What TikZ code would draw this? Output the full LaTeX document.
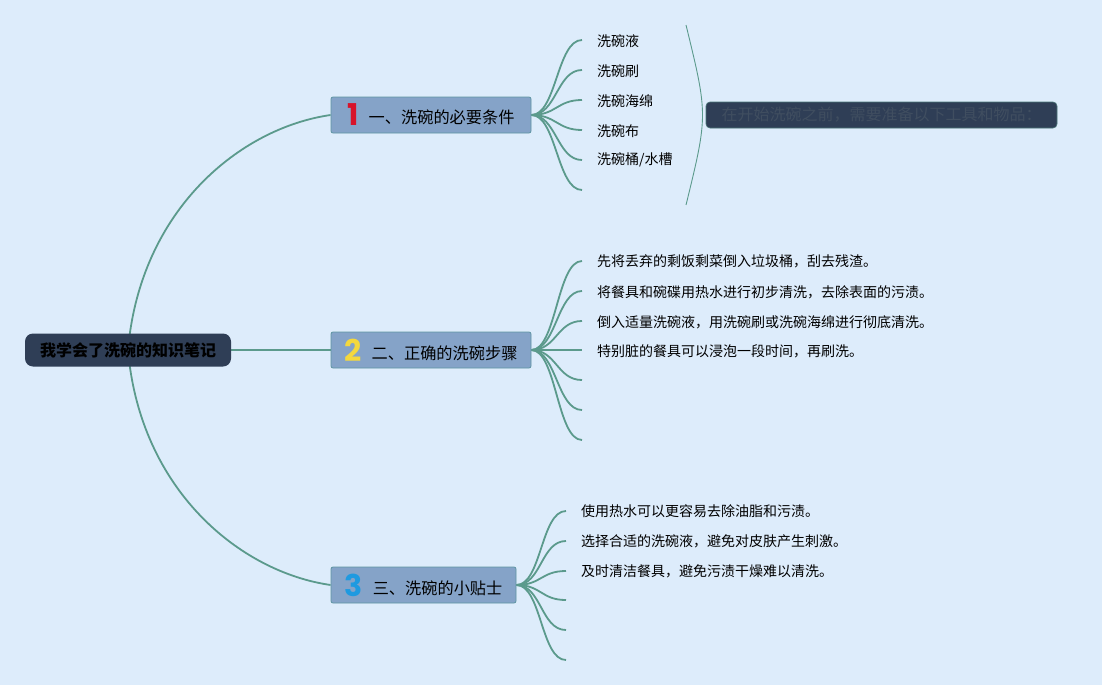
\documentclass[tikz,border=0pt]{standalone}
\usepackage{fontspec}
\setmainfont{Noto Sans CJK SC}
\newfontfamily\numfont{Poppins}
\usetikzlibrary{backgrounds}
\definecolor{bgc}{HTML}{DDECFB}
\definecolor{linkc}{HTML}{5B9A8C}
\definecolor{boxfill}{HTML}{85A3C8}
\definecolor{boxborder}{HTML}{5E95A2}
\definecolor{rootc}{HTML}{2F3E56}
\definecolor{sumtext}{HTML}{404E60}
\definecolor{numred}{HTML}{D7132A}
\definecolor{numyellow}{HTML}{F4D83E}
\definecolor{numblue}{HTML}{1F9AE0}
\begin{document}
\begin{tikzpicture}[x=1pt,y=-1pt,
  link/.style={draw=linkc, line width=1.8pt},
  rootbox/.style={fill=rootc, rounded corners=8pt, minimum width=206pt, minimum height=33pt, inner sep=0pt, font=\fontsize{16}{16}\selectfont\bfseries, text=black},
  branch/.style={draw=boxborder, fill=boxfill, rounded corners=2pt, minimum height=36pt, inner sep=0pt, line width=0.8pt, font=\fontsize{16.2}{16}\selectfont, text=black},
  leaf/.style={anchor=west, inner sep=0pt, font=\fontsize{14}{14}\selectfont, text=black},
  sumbox/.style={fill=rootc, draw=linkc!60!rootc, line width=0.6pt, rounded corners=4pt, minimum width=351pt, minimum height=26pt, inner sep=0pt, font=\fontsize{16}{16}\selectfont, text=sumtext},
  brace/.style={draw=linkc, line width=0.9pt}
]
\useasboundingbox (0,0) rectangle (1102,685);

% nodes
\node[rootbox] (root) at (128,350) {我学会了洗碗的知识笔记};
\node[branch, minimum width=200pt] (b1) at (431,115) {{\numfont\color{numred}\raisebox{-2pt}{\fontsize{30}{30}\selectfont\bfseries 1}}\hspace{10pt}一、洗碗的必要条件};
\node[branch, minimum width=200pt] (b2) at (431,350) {{\numfont\color{numyellow}\raisebox{-2pt}{\fontsize{30}{30}\selectfont\bfseries 2}}\hspace{10pt}二、正确的洗碗步骤};
\node[branch, minimum width=185pt] (b3) at (423.5,585) {{\numfont\color{numblue}\raisebox{-2pt}{\fontsize{30}{30}\selectfont\bfseries 3}}\hspace{10pt}三、洗碗的小贴士};

% leaf ends
\foreach \i/\y in {1/40,2/70,3/100,4/130,5/160,6/190} {\coordinate (e1\i) at (582,\y);}
\foreach \i/\y in {1/261,2/291,3/321,4/350,5/380,6/410,7/440} {\coordinate (e2\i) at (582,\y);}
\foreach \i/\y in {1/511,2/541,3/571,4/600,5/630,6/660} {\coordinate (e3\i) at (566,\y);}

% leaf texts
\node[leaf] (t11) at (597,41) {洗碗液};
\node[leaf] (t12) at (597,71) {洗碗刷};
\node[leaf] (t13) at (597,101) {洗碗海绵};
\node[leaf] (t14) at (597,131) {洗碗布};
\node[leaf] (t15) at (597,160) {洗碗桶/水槽};

\node[leaf] (t21) at (597,261) {先将丢弃的剩饭剩菜倒入垃圾桶，刮去残渣。};
\node[leaf] (t22) at (597,292) {将餐具和碗碟用热水进行初步清洗，去除表面的污渍。};
\node[leaf] (t23) at (597,322) {倒入适量洗碗液，用洗碗刷或洗碗海绵进行彻底清洗。};
\node[leaf] (t24) at (597,351) {特别脏的餐具可以浸泡一段时间，再刷洗。};

\node[leaf] (t31) at (581,511) {使用热水可以更容易去除油脂和污渍。};
\node[leaf] (t32) at (581,541) {选择合适的洗碗液，避免对皮肤产生刺激。};
\node[leaf] (t33) at (581,571) {及时清洁餐具，避免污渍干燥难以清洗。};

% summary
\coordinate (bt) at (686,25);
\coordinate (bb) at (686,205);
\node[sumbox] (sum) at (881.5,115) {在开始洗碗之前，需要准备以下工具和物品：};

\begin{scope}[on background layer]
\fill[bgc] (0,0) rectangle (1102,685);
\draw[link] (root.center) .. controls (140,210) and (240,128) .. (b1.west);
\draw[link] (root.center) .. controls (140,490) and (240,572) .. (b3.west);
\draw[link] (root.east) -- (b2.west);
\foreach \i in {1,...,6} {\draw[link] (b1.east) .. controls +(25,0) and +(-25,0) .. (e1\i);}
\foreach \i in {1,...,7} {\draw[link] (b2.east) .. controls +(25,0) and +(-25,0) .. (e2\i);}
\foreach \i in {1,...,6} {\draw[link] (b3.east) .. controls +(25,0) and +(-25,0) .. (e3\i);}
\draw[brace] (bt) .. controls (708,115) .. (bb);
\end{scope}
\end{tikzpicture}
\end{document}
